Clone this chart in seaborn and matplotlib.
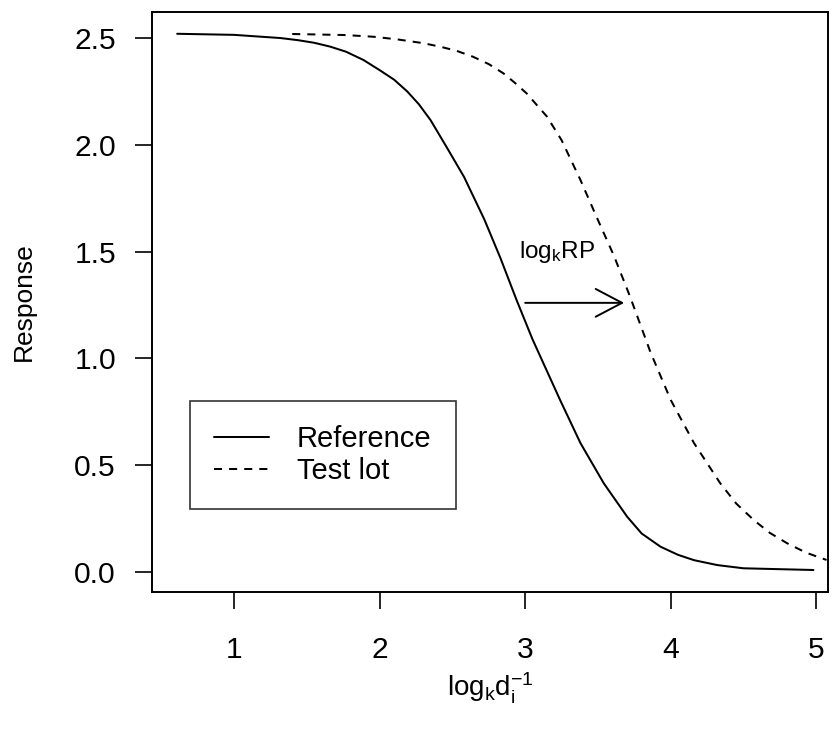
import matplotlib
matplotlib.use("Agg")
import matplotlib.pyplot as plt
import seaborn as sns
import pandas as pd

# Values
ref_x = [0.61, 1.0, 1.32, 1.44, 1.55, 1.66, 1.77, 1.89, 2.00, 2.10, 2.19, 2.27, 2.35, 2.46,
         2.58, 2.72, 2.83, 2.94, 3.05, 3.15, 3.24, 3.38, 3.54, 3.70, 3.80, 3.93, 4.05, 4.16,
         4.32, 4.50, 4.98]
ref_y = [2.52, 2.515, 2.50, 2.49, 2.478, 2.46, 2.436, 2.397, 2.35, 2.305, 2.25, 2.19, 2.116,
         1.99, 1.85, 1.65, 1.47, 1.275, 1.09, 0.94, 0.805, 0.603, 0.415, 0.259, 0.18, 0.118,
         0.08, 0.055, 0.032, 0.017, 0.009]
test_x = [1.40, 1.77, 1.96, 2.12, 2.30, 2.42, 2.53, 2.64, 2.75, 2.85, 2.93, 3.01, 3.15, 3.25,
          3.38, 3.49, 3.61, 3.72, 3.86, 4.00, 4.16, 4.34, 4.45, 4.57, 4.68, 4.80, 4.93, 5.07]
test_y = [2.519, 2.514, 2.506, 2.494, 2.476, 2.459, 2.44, 2.413, 2.378, 2.335, 2.29, 2.241,
          2.132, 2.022, 1.835, 1.663, 1.48, 1.29, 1.03, 0.805, 0.603, 0.415, 0.32, 0.243,
          0.183, 0.134, 0.09, 0.056]
series_names = ["Reference", "Test lot"]
x_ticks = [1, 2, 3, 4, 5]
y_ticks = [0.0, 0.5, 1.0, 1.5, 2.0, 2.5]
arrow_from = (3.0, 1.26)
arrow_to = (3.68, 1.26)
arrow_text = (3.22, 1.5)

df = pd.concat([
    pd.DataFrame({"x": ref_x, "y": ref_y, "series": series_names[0]}),
    pd.DataFrame({"x": test_x, "y": test_y, "series": series_names[1]}),
])

sns.set_style("ticks")
plt.rcParams["font.family"] = ["Liberation Sans", "DejaVu Sans"]
plt.rcParams["mathtext.fontset"] = "custom"
plt.rcParams["mathtext.rm"] = "Liberation Sans"
plt.rcParams["mathtext.it"] = "Liberation Sans"
for k in ["text.color", "axes.labelcolor", "xtick.color", "ytick.color", "axes.edgecolor"]:
    plt.rcParams[k] = "black"

fig = plt.figure(figsize=(8.33, 7.30), dpi=100)
ax = fig.add_axes([152 / 833, 1 - 592 / 730, 676 / 833, 580 / 730])

sns.lineplot(data=df, x="x", y="y", style="series", color="black", linewidth=1.45,
             dashes={"Reference": "", "Test lot": (4.0, 3.5)}, sort=False,
             estimator=None, ax=ax)

ax.set_xlim(0.437, 5.08)
ax.set_ylim(-0.094, 2.622)
ax.set_xticks(x_ticks)
ax.set_xticklabels([str(v) for v in x_ticks])
ax.set_yticks(y_ticks)
ax.set_yticklabels([f"{v:.1f}" for v in y_ticks])
ax.tick_params(axis="both", direction="out", length=12.5, width=1.2, labelsize=21.6,
               color="black", labelcolor="black")
ax.tick_params(axis="x", pad=19)
ax.tick_params(axis="y", pad=13.5)
for s in ax.spines.values():
    s.set_visible(True)
    s.set_color("black")
    s.set_linewidth(1.4)

ax.set_xlabel(r"$\mathrm{log_{k}d_{i}^{-1}}$", fontsize=20)
ax.set_ylabel("Response", fontsize=19)
ax.xaxis.set_label_coords(0.5, (592 - 688) / 580)
ax.xaxis.label.set_va("center")
ax.yaxis.set_label_coords((24 - 152) / 676, 0.5)
ax.yaxis.label.set_va("center")
ax.yaxis.label.set_ha("center")

ax.annotate("", xy=arrow_to, xytext=arrow_from,
            arrowprops=dict(arrowstyle="->,head_length=0.95,head_width=0.5",
                            color="black", lw=1.4, mutation_scale=20, shrinkA=0, shrinkB=0))
ax.text(arrow_text[0], arrow_text[1], r"$\mathrm{log_{k}RP}$", fontsize=17.5,
        ha="center", va="center")

leg = ax.legend(title=None, loc="upper left", bbox_to_anchor=(38 / 676, 191 / 580),
                fontsize=21, frameon=True, fancybox=False, edgecolor="black",
                handlelength=1.9, handletextpad=0.95, labelspacing=0.15, borderpad=0.82,
                borderaxespad=0)
leg.get_frame().set_linewidth(1.2)
for h in leg.get_lines():
    h.set_linewidth(1.45)

fig.savefig("out.png", dpi=100, facecolor="white")
